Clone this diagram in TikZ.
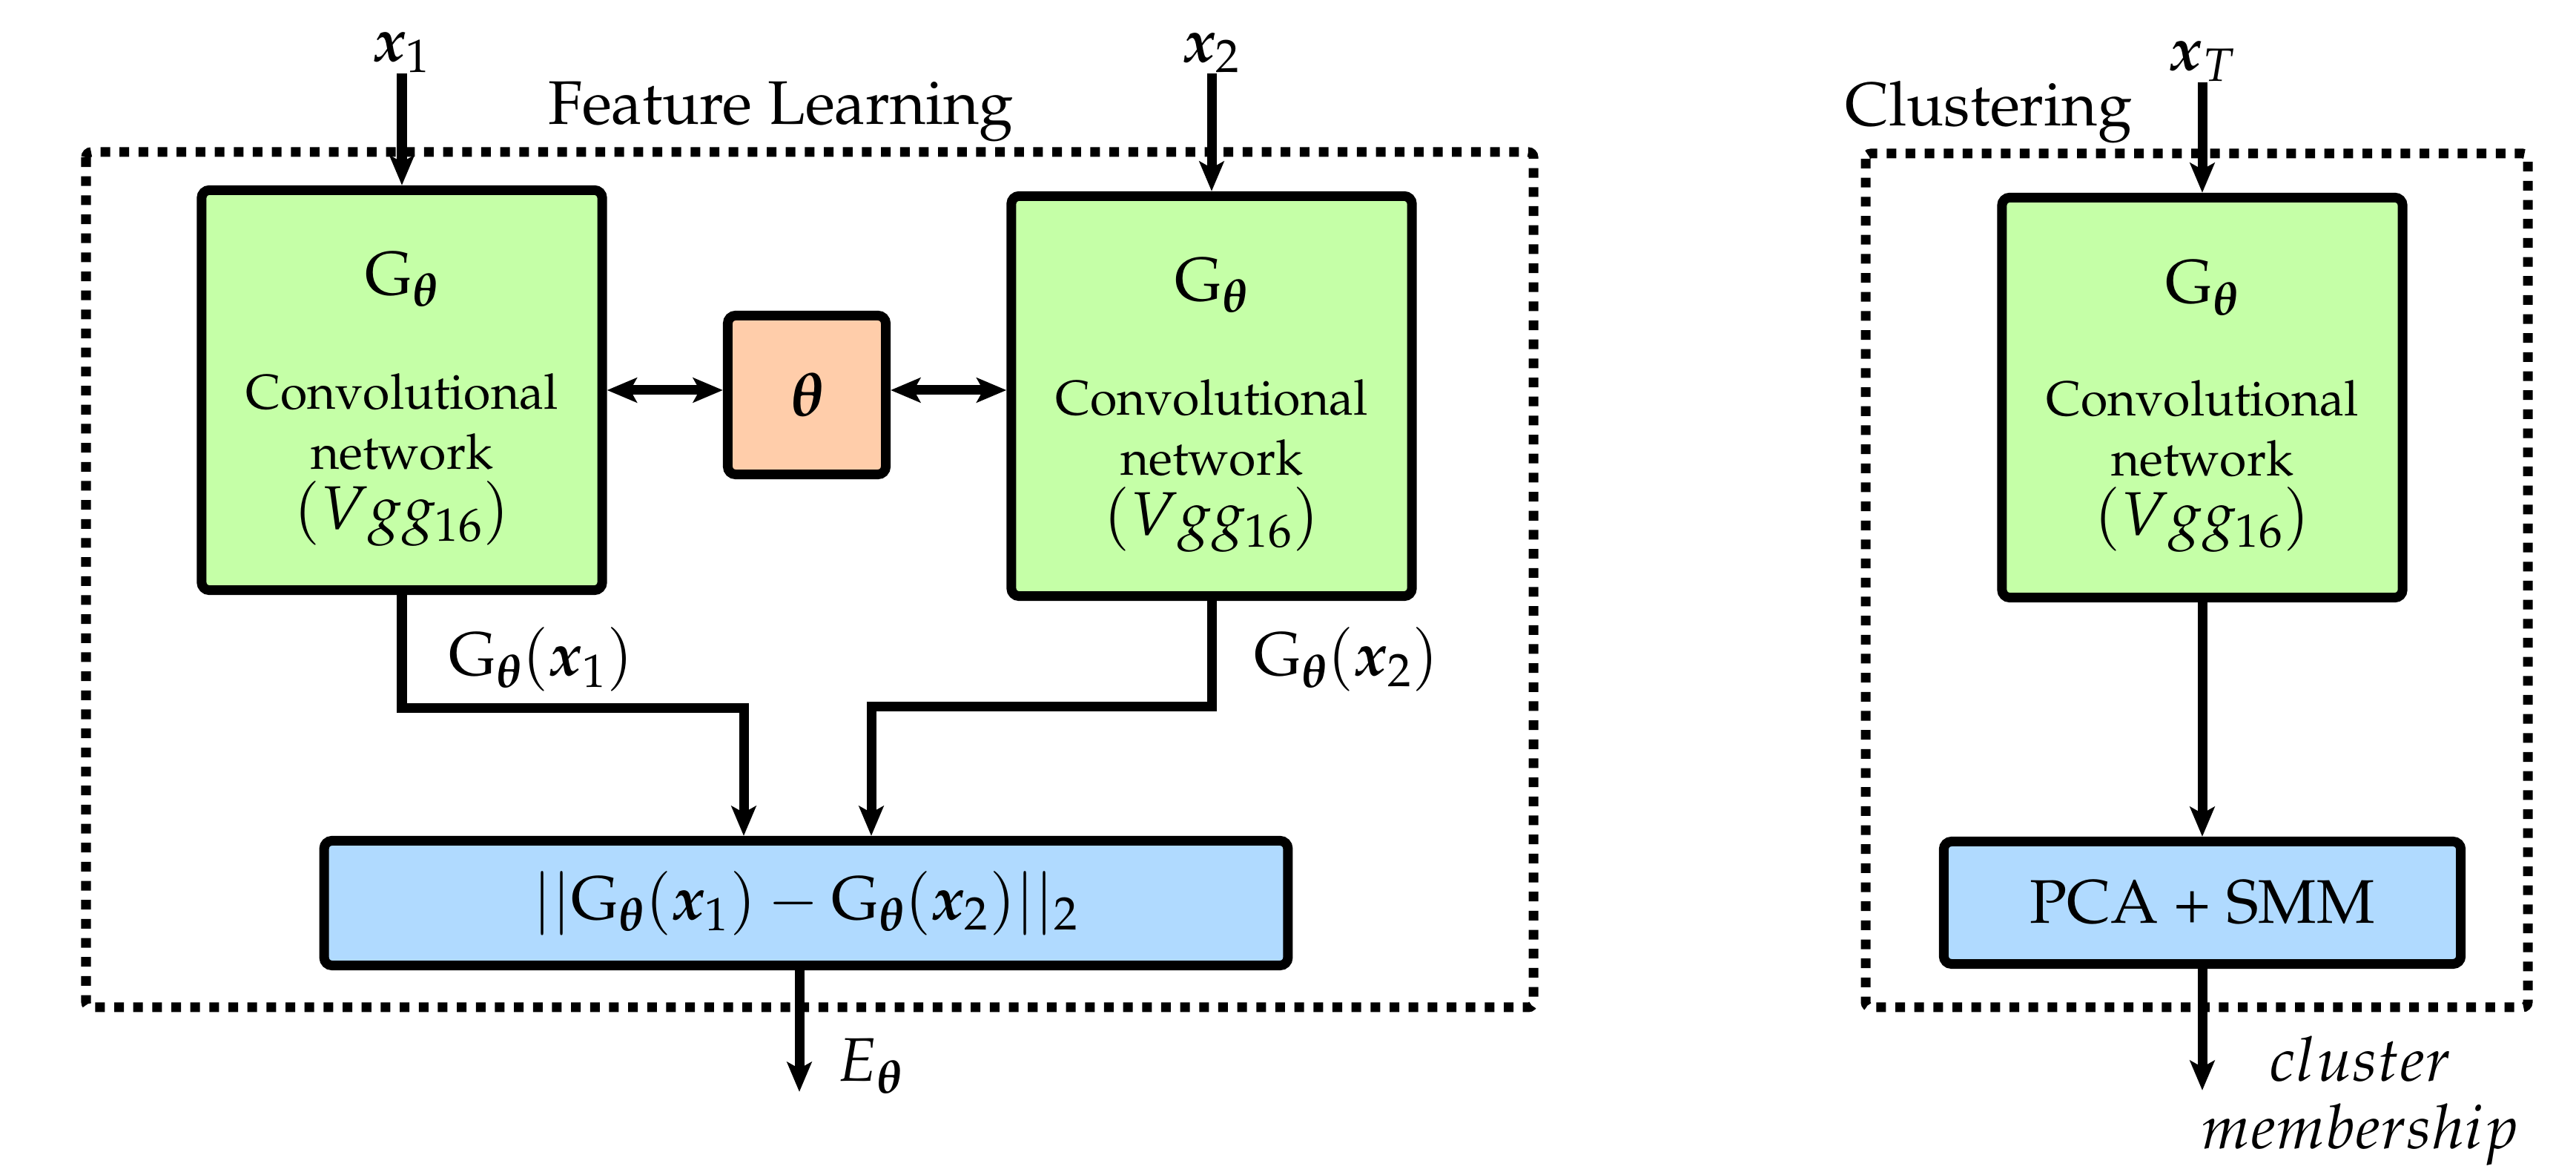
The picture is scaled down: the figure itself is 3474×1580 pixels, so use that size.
\documentclass[tikz,border=0pt]{standalone}
\usepackage[T1]{fontenc}
\usepackage{mathpazo}
\usepackage{bm}
\usetikzlibrary{arrows.meta}
\definecolor{boxgreen}{RGB}{197,255,167}
\definecolor{boxpeach}{RGB}{255,205,170}
\definecolor{boxblue}{RGB}{176,218,255}
\newcommand\gtext[1]{$\mathrm{G}_{\bm\theta}$\\[#1]{\fontsize{18.8}{23}\selectfont Convolutional}\\{\fontsize{18.8}{23}\selectfont network}\\$(Vgg_{16})$}
\begin{document}
\begin{tikzpicture}[x=0.01cm,y=-0.01cm,
  font=\fontsize{23.6}{28}\selectfont,
  >={Stealth[length=11.4pt,width=9.4pt,inset=2.5pt]},
  lw/.style={line width=3.7pt},
  arr/.style={->,lw},
  darr/.style={<->,lw},
  frame/.style={line width=3.7pt,dash pattern=on 3.7pt off 3.6pt,rounded corners=2pt},
  gbox/.style={draw,lw,fill=boxgreen,rounded corners=3pt,minimum width=5.40cm,minimum height=5.39cm,
    inner sep=0pt,align=center,text depth=0pt,font=\fontsize{23.6}{23}\selectfont},
  pbox/.style={draw,lw,fill=boxpeach,rounded corners=3pt,minimum width=2.13cm,minimum height=2.14cm,inner sep=0pt},
  bbox/.style={draw,lw,fill=boxblue,rounded corners=3pt,inner sep=0pt},
  lab/.style={inner sep=0pt}]
\useasboundingbox (0,0) rectangle (3474,1580);
% frames
\draw[frame] (116,205) rectangle (2068,1358);
\draw[frame] (2516,207) rectangle (3409,1358);
% titles
\node[lab,anchor=base] (FL) at (1053,168) {Feature Learning};
\node[lab,anchor=base] (CL) at (2682,170) {Clustering};
% boxes
\node[gbox] (L) at (542,526) {\gtext{21pt}};
\node[gbox] (R) at (1634,534) {\gtext{21pt}};
\node[gbox] (C) at (2970,536) {\gtext{20pt}};
\node[pbox] (th) at (1088,532.5) {$\bm\theta$};
\node[bbox,minimum width=12.99cm,minimum height=1.68cm] (B) at (1087,1217.5)
  {$||\mathrm{G}_{\bm\theta}(\bm{x}_1) - \mathrm{G}_{\bm\theta}(\bm{x}_2)||_2$};
\node[bbox,minimum width=6.97cm,minimum height=1.65cm] (P) at (2970,1217) {PCA + SMM};
% inputs
\coordinate (x1s) at (542,99);
\coordinate (x2s) at (1634,99);
\coordinate (xTs) at (2970,111);
\node[lab,anchor=south] (x1) at (x1s) {$\bm{x}_1$};
\node[lab,anchor=south] (x2) at (x2s) {$\bm{x}_2$};
\node[lab,anchor=south] (xT) at (xTs) {$\bm{x}_T$};
\draw[arr] (x1s) -- (L.north);
\draw[arr] (x2s) -- (R.north);
\draw[arr] (xTs) -- (C.north);
% theta links
\draw[darr] (L.east) -- (L.east -| th.west);
\draw[darr] (th.east |- L.east) -- (L.east -| R.west);
% feature connectors
\draw[arr] (L.south) |- (1003,955) -- (1003,0 |- B.north);
\draw[arr] (R.south) |- (1175,953) -- (1175,0 |- B.north);
\node[lab,anchor=base west] (g1) at (605,911) {$\mathrm{G}_{\bm\theta}(\bm{x}_1)$};
\node[lab,anchor=base west] (g2) at (1691,911) {$\mathrm{G}_{\bm\theta}(\bm{x}_2)$};
% outputs
\coordinate (Eend) at (1078,1472);
\draw[arr] (Eend |- B.south) -- (Eend);
\node[lab,anchor=base west] (E) at (1129,1458) {$E_{\bm\theta}$};
\draw[arr] (C.south) -- (P.north);
\coordinate (Cend) at (2970,1470);
\draw[arr] (P.south) -- (Cend);
\node[lab,align=center,anchor=north,font=\fontsize{23.6}{25.9}\selectfont] (cm) at (3183,1396) {$cluster$\\$membership$};
\end{tikzpicture}
\end{document}
